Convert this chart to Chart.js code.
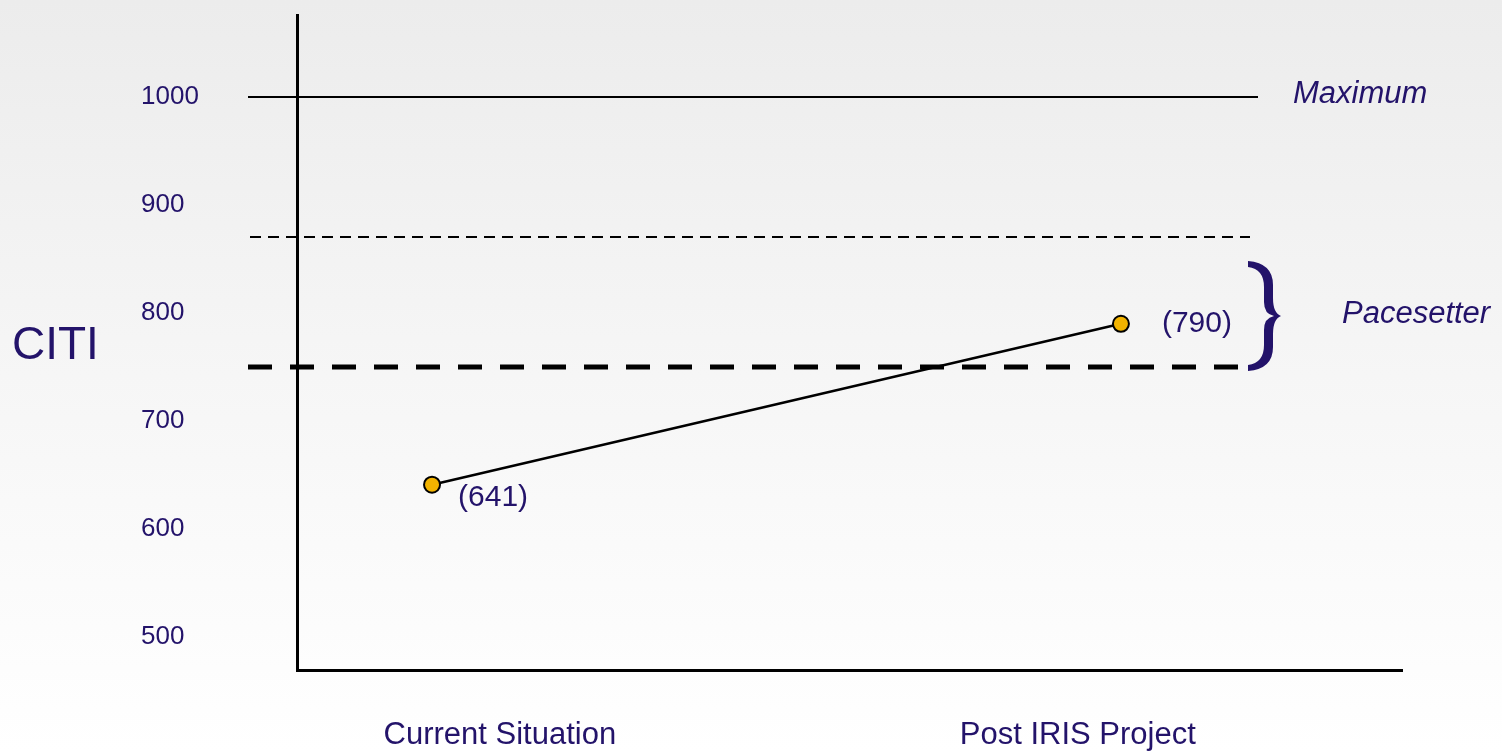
<!DOCTYPE html>
<html>
<head>
<meta charset="utf-8">
<title>CITI</title>
<script src="https://cdn.jsdelivr.net/npm/chart.js@4.4.1/dist/chart.umd.min.js"></script>
<style>
  html, body { margin: 0; padding: 0; }
  #wrap {
    width: 1502px; height: 752px; position: relative;
    background: linear-gradient(to bottom, #ececec 0%, #f6f6f6 50%, #ffffff 100%);
  }
</style>
</head>
<body>
<div id="wrap"><canvas id="citiChart"></canvas></div>
<script>
// values
const categories = ['Current Situation', 'Post IRIS Project'];
const citiValues = [641, 790];
const yTickLabels = ['500', '600', '700', '800', '900', '1000'];
const refLevels = [1000, 870, 750];
const refNames = ['Maximum', '', 'Pacesetter'];
const braceTop = 848;

const NAVY = '#23136a';
const FONT = '"Liberation Sans", Arial, sans-serif';

// reference lines, brace, value labels and the horizontal axis title
const overlay = {
    id: 'overlay',
    beforeDatasetsDraw(chart) {
        const ctx = chart.ctx;
        const y = chart.scales.y;
        const styles = [
            { from: 248, to: 1258, width: 2, dash: [] },
            { from: 250, to: 1250, width: 2, dash: [11, 7] },
            { from: 248, to: 1245, width: 5, dash: [24, 18] }
        ];
        refLevels.forEach(function (lvl, i) {
            const py = Math.round(y.getPixelForValue(lvl));
            ctx.save();
            ctx.strokeStyle = '#000';
            ctx.lineWidth = styles[i].width;
            ctx.setLineDash(styles[i].dash);
            ctx.beginPath();
            ctx.moveTo(styles[i].from, py);
            ctx.lineTo(styles[i].to, py);
            ctx.stroke();
            ctx.restore();
        });
    },
    afterDraw(chart) {
        const ctx = chart.ctx;
        const y = chart.scales.y;
        ctx.save();
        ctx.fillStyle = NAVY;
        ctx.textBaseline = 'middle';
        ctx.textAlign = 'left';

        // axis title, horizontal
        ctx.font = '46px ' + FONT;
        ctx.fillText('CITI', 12, 346);

        // reference names
        ctx.font = 'italic 31px ' + FONT;
        ctx.fillText(refNames[0], 1293, y.getPixelForValue(refLevels[0]) - 3);
        const bTop = y.getPixelForValue(braceTop);
        const bBot = y.getPixelForValue(refLevels[2]) + 4;
        const mid = (bTop + bBot) / 2;
        ctx.fillText(refNames[2], 1342, mid - 2);

        // brace, filled so the strokes thicken in the middle
        ctx.beginPath();
        ctx.moveTo(1248, bTop);
        ctx.quadraticCurveTo(1273, bTop + 2, 1273, bTop + 24);
        ctx.lineTo(1273, mid - 18);
        ctx.quadraticCurveTo(1273, mid - 3, 1281, mid);
        ctx.quadraticCurveTo(1273, mid + 3, 1273, mid + 18);
        ctx.lineTo(1273, bBot - 24);
        ctx.quadraticCurveTo(1273, bBot - 2, 1248, bBot);
        ctx.lineTo(1248, bBot - 6);
        ctx.quadraticCurveTo(1264, bBot - 8, 1264, bBot - 26);
        ctx.lineTo(1264, mid + 14);
        ctx.quadraticCurveTo(1264, mid + 2, 1274, mid);
        ctx.quadraticCurveTo(1264, mid - 2, 1264, mid - 14);
        ctx.lineTo(1264, bTop + 26);
        ctx.quadraticCurveTo(1264, bTop + 8, 1248, bTop + 6);
        ctx.closePath();
        ctx.fill();

        // value labels
        const pts = chart.getDatasetMeta(0).data;
        ctx.font = '30px ' + FONT;
        const offs = [[26, 13], [41, 0]];
        citiValues.forEach(function (v, i) {
            ctx.fillText('(' + v + ')', pts[i].x + offs[i][0], pts[i].y + offs[i][1]);
        });
        ctx.restore();
    }
};

new Chart(document.getElementById('citiChart').getContext('2d'), {
    type: 'line',
    data: {
        datasets: [{
            data: citiValues.map(function (v, i) { return { x: i, y: v }; }),
            xAxisID: 'x',
            yAxisID: 'y',
            borderColor: '#000',
            borderWidth: 2.5,
            pointRadius: 8,
            pointBackgroundColor: '#f2b300',
            pointBorderColor: '#000',
            pointBorderWidth: 2
        }]
    },
    options: {
        responsive: true,
        maintainAspectRatio: false,
        animation: false,
        layout: { padding: { left: 141, top: 15, right: 100, bottom: 0 } },
        plugins: {
            legend: { display: false },
            tooltip: { enabled: false }
        },
        scales: {
            x: {
                type: 'linear',
                display: false,
                min: -0.196,
                max: 1.408
            },
            xl: {
                type: 'linear',
                position: 'bottom',
                min: -0.351,
                max: 1.561,
                grid: { display: false, drawTicks: false },
                border: { display: true, color: '#000', width: 3 },
                afterBuildTicks: function (scale) {
                    scale.ticks = categories.map(function (c, i) { return { value: i }; });
                },
                afterFit: function (scale) {
                    scale.height = 82;
                    scale.paddingLeft = 0;
                    scale.paddingRight = 0;
                },
                ticks: {
                    padding: 47,
                    color: NAVY,
                    font: { family: FONT, size: 31 },
                    callback: function (v) { return categories[v]; }
                }
            },
            y: {
                type: 'linear',
                min: 469.4,
                max: 1075.9,
                grid: { display: false, drawTicks: false },
                border: { display: true, color: '#000', width: 3 },
                afterBuildTicks: function (scale) {
                    scale.ticks = yTickLabels.map(function (t) { return { value: Number(t) }; });
                },
                afterFit: function (scale) {
                    scale.width = 156;
                    scale.paddingTop = 0;
                    scale.paddingBottom = 0;
                },
                ticks: {
                    crossAlign: 'far',
                    color: NAVY,
                    font: { family: FONT, size: 26 },
                    callback: function (v) { return String(v); }
                }
            }
        }
    },
    plugins: [overlay]
});
</script>
</body>
</html>
